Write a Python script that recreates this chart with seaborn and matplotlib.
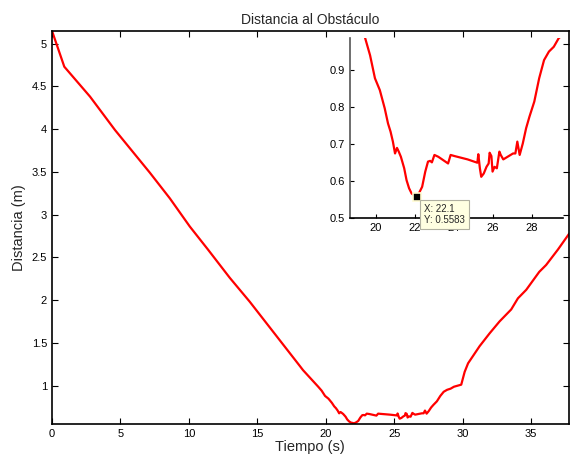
import matplotlib
matplotlib.use("Agg")
import matplotlib.pyplot as plt
import seaborn as sns
import pandas as pd

# Data
tiempo_main = [0.0, 0.9, 2.78, 4.6, 7.15, 8.61, 10.07, 11.4, 12.99, 14.45, 18.1, 18.34]
dist_main = [5.15, 4.73, 4.38, 3.99, 3.49, 3.19, 2.86, 2.59, 2.26, 1.98, 1.23, 1.18]

tiempo_zoom = [19.45, 19.7, 19.95, 20.2, 20.45, 20.62, 20.75, 20.87, 20.98, 21.08, 21.17,
               21.28, 21.45, 21.57, 21.7, 21.83, 22.07, 22.2, 22.37, 22.53, 22.67, 22.78,
               22.87, 23.0, 23.2, 23.7, 23.83, 24.03, 24.7, 25.2, 25.25, 25.33, 25.4, 25.53,
               25.67, 25.78, 25.83, 25.92, 25.98, 26.08, 26.2, 26.33, 26.4, 26.53, 27.03,
               27.15, 27.25, 27.37, 27.53, 27.7, 27.87, 28.12, 28.37, 28.62, 28.87, 29.12, 29.37]
dist_zoom = [0.986, 0.94, 0.878, 0.846, 0.797, 0.756, 0.734, 0.707, 0.675, 0.69, 0.68,
             0.666, 0.635, 0.603, 0.581, 0.567, 0.558, 0.567, 0.585, 0.626, 0.653, 0.655,
             0.651, 0.671, 0.666, 0.648, 0.671, 0.668, 0.659, 0.65, 0.673, 0.635, 0.612, 0.621,
             0.639, 0.648, 0.677, 0.668, 0.626, 0.639, 0.635, 0.68, 0.671, 0.659, 0.675,
             0.675, 0.707, 0.671, 0.702, 0.743, 0.774, 0.815, 0.878, 0.927, 0.95, 0.963, 0.986]

tiempo_tail = [29.9, 30.15, 30.4, 31.24, 31.97, 32.7, 33.55, 34.04, 34.65, 35.6, 36.1, 36.96, 37.8]
dist_tail = [1.01, 1.16, 1.26, 1.46, 1.61, 1.75, 1.89, 2.02, 2.12, 2.33, 2.41, 2.59, 2.78]

main_xticks = [0, 5, 10, 15, 20, 25, 30, 35]
main_yticks = [1, 1.5, 2, 2.5, 3, 3.5, 4, 4.5, 5]
main_ytick_labels = ["1", "1.5", "2", "2.5", "3", "3.5", "4", "4.5", "5"]
inset_xticks = [20, 22, 24, 26, 28]
inset_yticks = [0.5, 0.6, 0.7, 0.8, 0.9]
inset_ytick_labels = ["0.5", "0.6", "0.7", "0.8", "0.9"]

tip_x, tip_y = 22.1, 0.5583

df = pd.DataFrame({"Tiempo": tiempo_main + tiempo_zoom + tiempo_tail,
                   "Distancia": dist_main + dist_zoom + dist_tail})

sns.set_style("ticks")
plt.rcParams["font.family"] = ["Liberation Sans", "DejaVu Sans"]

fig = plt.figure(figsize=(5.70, 4.62), dpi=100)
ax = fig.add_axes([0.0912, 0.0823, 0.9065, 0.851])
sns.lineplot(data=df, x="Tiempo", y="Distancia", ax=ax, color="#ff0000",
             linewidth=1.6, estimator=None, sort=False)
ax.set_xlim(0, 37.75)
ax.set_ylim(0.55, 5.15)
ax.set_xticks(main_xticks)
ax.set_xticklabels([str(t) for t in main_xticks])
ax.set_yticks(main_yticks)
ax.set_yticklabels(main_ytick_labels)
ax.tick_params(direction="in", top=True, right=True, length=4, width=0.8,
               labelsize=8, colors="black")
for s in ax.spines.values():
    s.set_linewidth(1.2)
    s.set_color("black")
ax.set_xlabel("Tiempo (s)", fontsize=10.5, labelpad=1)
ax.set_ylabel("Distancia (m)", fontsize=10.5, labelpad=4)
ax.set_title("Distancia al Obstáculo", fontsize=10, pad=5)

ins = fig.add_axes([0.614, 0.5275, 0.374, 0.3905])
sns.lineplot(data=df, x="Tiempo", y="Distancia", ax=ins, color="#ff0000",
             linewidth=1.6, estimator=None, sort=False)
ins.set_xlim(18.67, 29.6)
ins.set_ylim(0.5, 0.987)
ins.set_xticks(inset_xticks)
ins.set_xticklabels([str(t) for t in inset_xticks])
ins.set_yticks(inset_yticks)
ins.set_yticklabels(inset_ytick_labels)
ins.tick_params(direction="in", length=3, width=0.8, labelsize=8, colors="black")
ins.set_xlabel("")
ins.set_ylabel("")
ins.spines["top"].set_visible(False)
ins.spines["right"].set_visible(False)
ins.spines["left"].set_color("#555555")
ins.spines["left"].set_linewidth(1.2)
ins.spines["bottom"].set_color("black")
ins.spines["bottom"].set_linewidth(1.2)
ins.patch.set_alpha(1.0)

ins.plot([tip_x], [tip_y], marker="s", markersize=5.5, color="black",
         markeredgecolor="#fffbd0", markeredgewidth=1.2, zorder=5)
ins.annotate(f"X: {tip_x}\nY: {tip_y}", xy=(tip_x, tip_y), xytext=(5, -5),
             textcoords="offset points", ha="left", va="top", fontsize=7,
             linespacing=1.15, zorder=6, annotation_clip=False,
             bbox=dict(boxstyle="square,pad=0.4", facecolor="#ffffe1",
                       edgecolor="#b0b0a0", linewidth=0.8))

fig.savefig("out.png", dpi=100)
